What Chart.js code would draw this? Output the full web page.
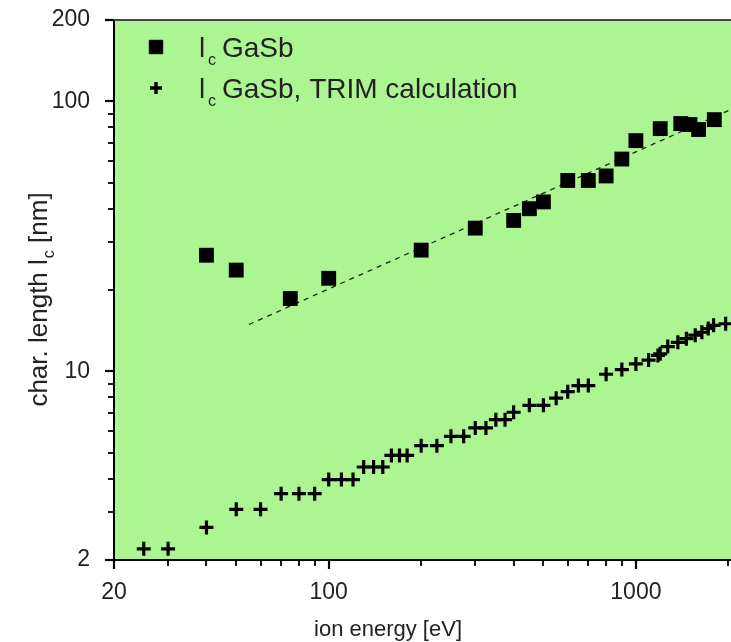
<!DOCTYPE html>
<html>
<head>
<meta charset="utf-8">
<script src="https://cdn.jsdelivr.net/npm/chart.js@4.4.1/dist/chart.umd.min.js"></script>
<style>
  html, body { margin: 0; padding: 0; background: #fff; }
  #wrap { width: 731px; height: 642px; position: relative; }
</style>
</head>
<body>
<div id="wrap"><canvas id="chart-lc" width="731" height="642"></canvas></div>
<script>
// measured l_c (squares)
const energySq = [40, 50, 75, 100, 200, 300, 400, 450, 500, 600, 700, 800, 900, 1000, 1200, 1400, 1500, 1600, 1800];
const lcSq     = [26.9, 23.7, 18.6, 22.1, 28.1, 33.9, 36.2, 40.0, 42.4, 50.9, 50.9, 52.9, 61.1, 71.5, 79.2, 82.7, 82.0, 78.6, 85.5];

// TRIM calculation (crosses)
const energyTrim = [25, 30, 40, 50, 60, 70, 80, 90, 100, 110, 120, 130, 140, 150, 160, 170, 180, 200, 225, 250,
                    275, 300, 325, 350, 375, 400, 450, 500, 550, 600, 650, 700, 800, 900, 1000, 1100, 1180, 1200,
                    1270, 1370, 1460, 1560, 1640, 1720, 1790, 1960];
const lcTrim     = [2.20, 2.20, 2.64, 3.08, 3.08, 3.52, 3.52, 3.52, 3.97, 3.97, 3.97, 4.42, 4.42, 4.42, 4.88, 4.88, 4.88, 5.30, 5.30, 5.74,
                    5.74, 6.17, 6.17, 6.62, 6.62, 7.05, 7.48, 7.48, 7.95, 8.40, 8.85, 8.85, 9.75, 10.15, 10.65, 11.0, 11.45, 11.6,
                    12.35, 12.8, 13.2, 13.6, 13.95, 14.4, 14.8, 15.0];

// dashed power-law fit, end points
const fitX = [55, 2040];
const fitY = [14.9, 93.3];

// axis ticks
const xTicks = [20, 30, 40, 50, 60, 70, 80, 90, 100, 200, 300, 400, 500, 600, 700, 800, 900, 1000, 2000];
const xLabels = [20, 100, 1000];
const yTicks = [2, 3, 4, 5, 6, 7, 8, 9, 10, 20, 30, 40, 50, 60, 70, 80, 90, 100, 200];
const yLabels = [2, 10, 100, 200];

const FONT = "'Liberation Sans', Arial, sans-serif";
const TXT = '#222';
const BG = '#adf593';

const toXY = (xs, ys) => xs.map((x, i) => ({ x, y: ys[i] }));

const isMajor = v => Math.abs(Math.log10(v) - Math.round(Math.log10(v))) < 1e-9;

// no extra room for half labels at the ends
const noPad = s => { s.paddingLeft = 0; s.paddingRight = 0; s.paddingTop = 0; s.paddingBottom = 0; };

// green plot area + white page
const bgPlugin = {
  id: 'bg',
  beforeDraw(chart) {
    const { ctx, chartArea: a } = chart;
    ctx.save();
    ctx.fillStyle = '#fff';
    ctx.fillRect(0, 0, chart.width, chart.height);
    ctx.fillStyle = BG;
    ctx.fillRect(a.left, a.top, a.right - a.left, a.bottom - a.top);
    ctx.restore();
  }
};

// tick marks (long for decades, short otherwise), top frame, titles, legend
const decoPlugin = {
  id: 'deco',
  afterDraw(chart) {
    const { ctx, chartArea: a, scales } = chart;
    ctx.save();
    ctx.strokeStyle = '#000';
    xTicks.forEach(v => {
      const px = Math.round(scales.x.getPixelForValue(v));
      const long = isMajor(v) || xLabels.includes(v);
      ctx.lineWidth = long ? 2.2 : 1.8;
      ctx.beginPath();
      ctx.moveTo(px, a.bottom);
      ctx.lineTo(px, a.bottom + (long ? 9 : 6));
      ctx.stroke();
    });
    yTicks.forEach(v => {
      const py = Math.round(scales.y.getPixelForValue(v));
      const long = isMajor(v) || yLabels.includes(v);
      ctx.lineWidth = long ? 2.2 : 1.8;
      ctx.beginPath();
      ctx.moveTo(a.left, py);
      ctx.lineTo(a.left - (long ? 9 : 6), py);
      ctx.stroke();
    });

    // top frame line
    ctx.strokeStyle = '#444';
    ctx.lineWidth = 2;
    ctx.beginPath();
    ctx.moveTo(a.left, a.top);
    ctx.lineTo(a.right, a.top);
    ctx.stroke();

    ctx.fillStyle = TXT;
    // x title
    ctx.font = `22px ${FONT}`;
    ctx.textAlign = 'center';
    ctx.textBaseline = 'alphabetic';
    ctx.fillText('ion energy [eV]', 388, 636);

    // y title with subscript
    ctx.save();
    ctx.translate(47, 300);
    ctx.rotate(-Math.PI / 2);
    const p1 = 'char. length l', p2 = 'c', p3 = ' [nm]';
    ctx.font = `26px ${FONT}`;
    const w1 = ctx.measureText(p1).width, w3 = ctx.measureText(p3).width;
    ctx.font = `16px ${FONT}`;
    const w2 = ctx.measureText(p2).width;
    let sx = -(w1 + w2 + w3) / 2;
    ctx.textAlign = 'left';
    ctx.font = `26px ${FONT}`;
    ctx.fillText(p1, sx, 0);
    ctx.font = `16px ${FONT}`;
    ctx.fillText(p2, sx + w1 + 1, 7);
    ctx.font = `26px ${FONT}`;
    ctx.fillText(p3, sx + w1 + w2 + 1, 0);
    ctx.restore();

    // legend
    const legend = [
      { ds: chart.data.datasets[0], y: 47, text: 'GaSb' },
      { ds: chart.data.datasets[1], y: 88, text: 'GaSb, TRIM calculation' }
    ];
    legend.forEach(item => {
      ctx.fillStyle = '#000';
      ctx.strokeStyle = '#000';
      ctx.lineWidth = item.ds.pointStyle === 'rect' ? 1 : 3.4;
      Chart.helpers.drawPoint(ctx, {
        pointStyle: item.ds.pointStyle,
        radius: item.ds.pointStyle === 'rect' ? 9.5 : 6,
        borderWidth: ctx.lineWidth
      }, 156, item.y);
      ctx.fillStyle = TXT;
      ctx.textAlign = 'left';
      ctx.font = `28px ${FONT}`;
      ctx.fillText('l', 199, item.y + 10);
      ctx.font = `16px ${FONT}`;
      ctx.fillText('c', 208, item.y + 18);
      ctx.font = `28px ${FONT}`;
      ctx.fillText(item.text, 222, item.y + 10);
    });
    ctx.restore();
  }
};

new Chart(document.getElementById('chart-lc'), {
  type: 'scatter',
  data: {
    datasets: [
      {
        label: 'lc GaSb',
        data: toXY(energySq, lcSq),
        pointStyle: 'rect',
        pointRadius: 10.5,
        backgroundColor: '#000',
        borderColor: '#000',
        borderWidth: 0
      },
      {
        label: 'lc GaSb, TRIM calculation',
        data: toXY(energyTrim, lcTrim),
        pointStyle: 'cross',
        pointRadius: 7,
        borderColor: '#000',
        backgroundColor: '#000',
        borderWidth: 3.2
      },
      {
        type: 'line',
        label: 'fit',
        data: toXY(fitX, fitY),
        borderColor: '#222',
        borderWidth: 1.3,
        borderDash: [5, 5],
        pointRadius: 0,
        fill: false
      }
    ]
  },
  options: {
    responsive: false,
    devicePixelRatio: 1,
    animation: false,
    layout: { autoPadding: false, padding: { top: 20, left: 0, right: 0, bottom: 0 } },
    plugins: { legend: { display: false }, tooltip: { enabled: false } },
    scales: {
      x: {
        type: 'logarithmic',
        min: 20, max: 2040,
        afterBuildTicks: s => { s.ticks = xTicks.map(v => ({ value: v })); },
        afterFit: s => { s.height = 82; noPad(s); },
        grid: { display: false },
        border: { display: true, color: '#000', width: 2 },
        ticks: {
          autoSkip: false, maxRotation: 0, padding: 11,
          color: TXT, font: { family: FONT, size: 23 },
          callback: v => xLabels.includes(v) ? String(v) : ''
        }
      },
      y: {
        type: 'logarithmic',
        min: 2, max: 200,
        afterBuildTicks: s => { s.ticks = yTicks.map(v => ({ value: v })); },
        afterFit: s => { s.width = 114; noPad(s); },
        grid: { display: false },
        border: { display: true, color: '#000', width: 2 },
        ticks: {
          autoSkip: false, padding: 16,
          color: TXT, font: { family: FONT, size: 23 },
          callback: v => yLabels.includes(v) ? String(v) : ''
        }
      }
    }
  },
  plugins: [bgPlugin, decoPlugin]
});
</script>
</body>
</html>
